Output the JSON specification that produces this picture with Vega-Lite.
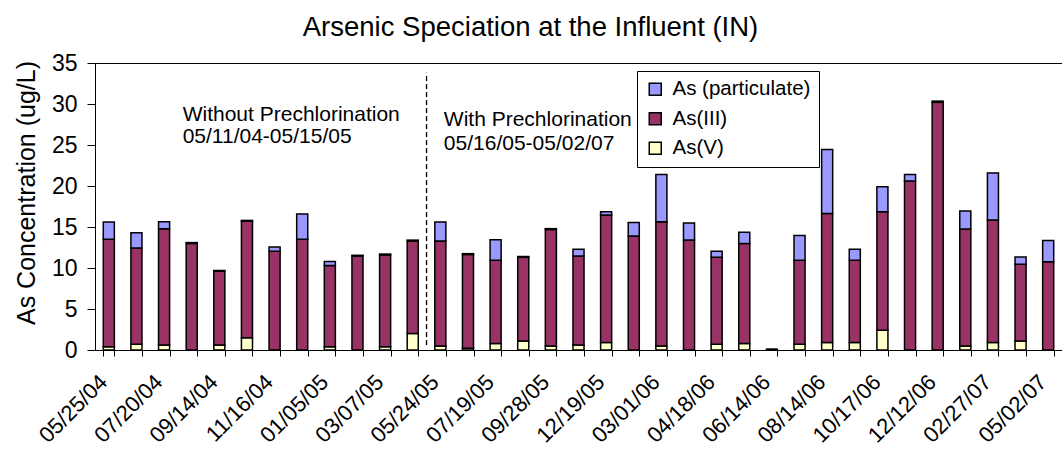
{
  "$schema": "https://vega.github.io/schema/vega-lite/v6.json",
  "width": 967,
  "height": 287,
  "autosize": {"type": "none"},
  "padding": {"left": 95, "top": 63, "right": 0, "bottom": 109},
  "background": "white",
  "config": {"view": {"stroke": null}, "font": "Liberation Sans"},
  "title": {"text": "Arsenic Speciation at the Influent (IN)", "fontSize": 27.5, "fontWeight": "normal", "color": "black", "anchor": "middle", "frame": "group", "dx": -48, "baseline": "alphabetic", "offset": -11},
  "resolve": {"axis": {"x": "independent"}},
  "layer": [
    {
      "data": {"values": [
        {"date": "05/25/04", "species": "As(V)", "value": 0.4}, {"date": "05/25/04", "species": "As(III)", "value": 13.1}, {"date": "05/25/04", "species": "As (particulate)", "value": 2.1},
        {"date": "06/22/04", "species": "As(V)", "value": 0.7}, {"date": "06/22/04", "species": "As(III)", "value": 11.75}, {"date": "06/22/04", "species": "As (particulate)", "value": 1.85},
        {"date": "07/20/04", "species": "As(V)", "value": 0.6}, {"date": "07/20/04", "species": "As(III)", "value": 14.2}, {"date": "07/20/04", "species": "As (particulate)", "value": 0.85},
        {"date": "08/17/04", "species": "As(V)", "value": 0}, {"date": "08/17/04", "species": "As(III)", "value": 13.0}, {"date": "08/17/04", "species": "As (particulate)", "value": 0.1},
        {"date": "09/14/04", "species": "As(V)", "value": 0.6}, {"date": "09/14/04", "species": "As(III)", "value": 9.0}, {"date": "09/14/04", "species": "As (particulate)", "value": 0.1},
        {"date": "10/12/04", "species": "As(V)", "value": 1.5}, {"date": "10/12/04", "species": "As(III)", "value": 14.2}, {"date": "10/12/04", "species": "As (particulate)", "value": 0.1},
        {"date": "11/16/04", "species": "As(V)", "value": 0}, {"date": "11/16/04", "species": "As(III)", "value": 12.05}, {"date": "11/16/04", "species": "As (particulate)", "value": 0.5},
        {"date": "12/07/04", "species": "As(V)", "value": 0}, {"date": "12/07/04", "species": "As(III)", "value": 13.5}, {"date": "12/07/04", "species": "As (particulate)", "value": 3.1},
        {"date": "01/05/05", "species": "As(V)", "value": 0.4}, {"date": "01/05/05", "species": "As(III)", "value": 9.9}, {"date": "01/05/05", "species": "As (particulate)", "value": 0.5},
        {"date": "02/08/05", "species": "As(V)", "value": 0}, {"date": "02/08/05", "species": "As(III)", "value": 11.45}, {"date": "02/08/05", "species": "As (particulate)", "value": 0.1},
        {"date": "03/07/05", "species": "As(V)", "value": 0.4}, {"date": "03/07/05", "species": "As(III)", "value": 11.2}, {"date": "03/07/05", "species": "As (particulate)", "value": 0.1},
        {"date": "04/12/05", "species": "As(V)", "value": 2.0}, {"date": "04/12/05", "species": "As(III)", "value": 11.3}, {"date": "04/12/05", "species": "As (particulate)", "value": 0.1},
        {"date": "05/24/05", "species": "As(V)", "value": 0.5}, {"date": "05/24/05", "species": "As(III)", "value": 12.8}, {"date": "05/24/05", "species": "As (particulate)", "value": 2.3},
        {"date": "06/21/05", "species": "As(V)", "value": 0.2}, {"date": "06/21/05", "species": "As(III)", "value": 11.45}, {"date": "06/21/05", "species": "As (particulate)", "value": 0.1},
        {"date": "07/19/05", "species": "As(V)", "value": 0.8}, {"date": "07/19/05", "species": "As(III)", "value": 10.15}, {"date": "07/19/05", "species": "As (particulate)", "value": 2.5},
        {"date": "08/24/05", "species": "As(V)", "value": 1.1}, {"date": "08/24/05", "species": "As(III)", "value": 10.2}, {"date": "08/24/05", "species": "As (particulate)", "value": 0.1},
        {"date": "09/28/05", "species": "As(V)", "value": 0.5}, {"date": "09/28/05", "species": "As(III)", "value": 14.2}, {"date": "09/28/05", "species": "As (particulate)", "value": 0.1},
        {"date": "11/08/05", "species": "As(V)", "value": 0.6}, {"date": "11/08/05", "species": "As(III)", "value": 10.85}, {"date": "11/08/05", "species": "As (particulate)", "value": 0.85},
        {"date": "12/19/05", "species": "As(V)", "value": 0.9}, {"date": "12/19/05", "species": "As(III)", "value": 15.55}, {"date": "12/19/05", "species": "As (particulate)", "value": 0.4},
        {"date": "01/25/06", "species": "As(V)", "value": 0}, {"date": "01/25/06", "species": "As(III)", "value": 13.9}, {"date": "01/25/06", "species": "As (particulate)", "value": 1.65},
        {"date": "03/01/06", "species": "As(V)", "value": 0.5}, {"date": "03/01/06", "species": "As(III)", "value": 15.15}, {"date": "03/01/06", "species": "As (particulate)", "value": 5.75},
        {"date": "03/29/06", "species": "As(V)", "value": 0}, {"date": "03/29/06", "species": "As(III)", "value": 13.4}, {"date": "03/29/06", "species": "As (particulate)", "value": 2.1},
        {"date": "04/18/06", "species": "As(V)", "value": 0.7}, {"date": "04/18/06", "species": "As(III)", "value": 10.6}, {"date": "04/18/06", "species": "As (particulate)", "value": 0.75},
        {"date": "05/16/06", "species": "As(V)", "value": 0.8}, {"date": "05/16/06", "species": "As(III)", "value": 12.2}, {"date": "05/16/06", "species": "As (particulate)", "value": 1.35},
        {"date": "06/14/06", "species": "As(V)", "value": 0}, {"date": "06/14/06", "species": "As(III)", "value": 0.08}, {"date": "06/14/06", "species": "As (particulate)", "value": 0},
        {"date": "07/12/06", "species": "As(V)", "value": 0.7}, {"date": "07/12/06", "species": "As(III)", "value": 10.25}, {"date": "07/12/06", "species": "As (particulate)", "value": 3.0},
        {"date": "08/14/06", "species": "As(V)", "value": 0.9}, {"date": "08/14/06", "species": "As(III)", "value": 15.75}, {"date": "08/14/06", "species": "As (particulate)", "value": 7.8},
        {"date": "09/13/06", "species": "As(V)", "value": 0.9}, {"date": "09/13/06", "species": "As(III)", "value": 10.05}, {"date": "09/13/06", "species": "As (particulate)", "value": 1.35},
        {"date": "10/17/06", "species": "As(V)", "value": 2.4}, {"date": "10/17/06", "species": "As(III)", "value": 14.45}, {"date": "10/17/06", "species": "As (particulate)", "value": 3.05},
        {"date": "11/14/06", "species": "As(V)", "value": 0}, {"date": "11/14/06", "species": "As(III)", "value": 20.6}, {"date": "11/14/06", "species": "As (particulate)", "value": 0.8},
        {"date": "12/12/06", "species": "As(V)", "value": 0}, {"date": "12/12/06", "species": "As(III)", "value": 30.2}, {"date": "12/12/06", "species": "As (particulate)", "value": 0.15},
        {"date": "01/23/07", "species": "As(V)", "value": 0.5}, {"date": "01/23/07", "species": "As(III)", "value": 14.25}, {"date": "01/23/07", "species": "As (particulate)", "value": 2.2},
        {"date": "02/27/07", "species": "As(V)", "value": 0.9}, {"date": "02/27/07", "species": "As(III)", "value": 14.95}, {"date": "02/27/07", "species": "As (particulate)", "value": 5.75},
        {"date": "03/28/07", "species": "As(V)", "value": 1.1}, {"date": "03/28/07", "species": "As(III)", "value": 9.35}, {"date": "03/28/07", "species": "As (particulate)", "value": 0.9},
        {"date": "05/02/07", "species": "As(V)", "value": 0}, {"date": "05/02/07", "species": "As(III)", "value": 10.75}, {"date": "05/02/07", "species": "As (particulate)", "value": 2.6}
      ]},
      "mark": {"type": "bar", "stroke": "black", "strokeWidth": 1.5},
      "encoding": {
        "x": {
          "field": "date", "type": "ordinal", "sort": null,
          "scale": {"paddingInner": 0.6, "paddingOuter": 0.3},
          "axis": {
            "title": null, "grid": false, "labelAngle": -45, "labelAlign": "right", "labelBaseline": "top",
            "labelFontSize": 22, "labelColor": "black", "labelPadding": 15, "labelOffset": -12.7,
            "labelOverlap": false, "labelBound": false,
            "labelExpr": "round(datum.index * 34) % 2 == 0 ? datum.label : ''",
            "tickBand": "extent", "tickSize": 6, "tickColor": "black", "domainColor": "black"
          }
        },
        "y": {
          "field": "value", "type": "quantitative", "stack": "zero",
          "scale": {"domain": [0, 35], "nice": false},
          "axis": {
            "title": "As Concentration (ug/L)", "titleFontSize": 25, "titleFontWeight": "normal", "titleColor": "black",
            "titlePadding": 12, "titleY": 129.5,
            "grid": true, "gridOpacity": 1, "gridWidth": 1.2,
            "gridColor": {"condition": {"test": "datum.value >= 35", "value": "black"}, "value": "transparent"},
            "values": [0, 5, 10, 15, 20, 25, 30, 35],
            "labelFontSize": 23, "labelColor": "black", "labelPadding": 10,
            "tickSize": 8, "tickColor": "black", "domainColor": "black"
          }
        },
        "color": {
          "field": "species", "type": "nominal",
          "scale": {"domain": ["As (particulate)", "As(III)", "As(V)"], "range": ["#9999FF", "#993366", "#FFFFCC"]},
          "legend": {
            "title": null, "orient": "none", "legendX": 542, "legendY": 8,
            "symbolType": "square", "symbolSize": 144, "symbolStrokeColor": "black", "symbolStrokeWidth": 1.5,
            "labelFontSize": 20.5, "labelColor": "black", "labelOffset": 7, "labelLimit": 300,
            "strokeColor": "black", "fillColor": "white", "padding": 8, "rowPadding": 8.5
          }
        },
        "order": {"field": "species", "sort": "descending"}
      }
    },
    {
      "data": {"values": [{}]},
      "mark": {"type": "rule", "color": "black", "strokeWidth": 1.3, "strokeDash": [5, 3]},
      "encoding": {
        "x": {"datum": "05/24/05", "bandPosition": -0.75,
              "axis": {"orient": "top", "title": null, "labels": false, "ticks": false, "grid": false, "domain": true, "domainColor": "black", "domainWidth": 1.2}},
        "y": {"datum": 0.6},
        "y2": {"datum": 33.8}
      }
    },
    {
      "data": {"values": [{}]},
      "mark": {"type": "text", "align": "left", "baseline": "alphabetic", "fontSize": 21, "lineHeight": 22, "color": "black", "dx": -3.5,
               "text": ["Without Prechlorination", "05/11/04-05/15/05"]},
      "encoding": {
        "x": {"datum": "08/17/04", "bandPosition": 0, "axis": null},
        "y": {"datum": 27.9}
      }
    },
    {
      "data": {"values": [{}]},
      "mark": {"type": "text", "align": "left", "baseline": "alphabetic", "fontSize": 21, "lineHeight": 24, "color": "black", "dx": 3.5,
               "text": ["With Prechlorination", "05/16/05-05/02/07"]},
      "encoding": {
        "x": {"datum": "05/24/05", "bandPosition": 0.5, "axis": null},
        "y": {"datum": 27.3}
      }
    }
  ]
}
